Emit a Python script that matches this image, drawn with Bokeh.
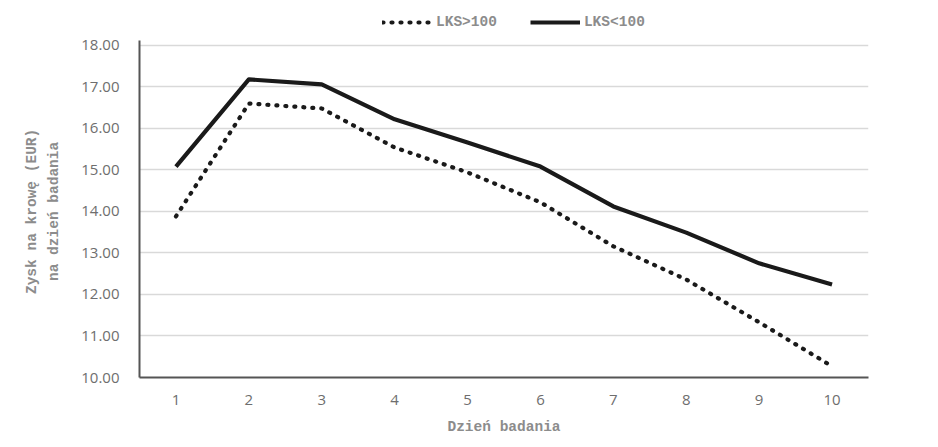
from bokeh.plotting import figure
from bokeh.models import Legend, LegendItem, FixedTicker, Range1d, NumeralTickFormatter
from bokeh.embed import file_html
from bokeh.resources import INLINE

days = [1, 2, 3, 4, 5, 6, 7, 8, 9, 10]
lks_above_100 = [13.88, 16.60, 16.48, 15.54, 14.94, 14.22, 13.16, 12.36, 11.33, 10.27]
lks_below_100 = [15.08, 17.18, 17.06, 16.22, 15.66, 15.08, 14.12, 13.49, 12.75, 12.24]
y_ticks = [10, 11, 12, 13, 14, 15, 16, 17, 18]

MONO = "Liberation Mono"
NB = "\u00a0" * 4

p = figure(width=922, height=437, output_backend="svg", toolbar_location=None,
           x_range=Range1d(0.5, 10.5), y_range=Range1d(10, 18.84),
           min_border_left=139, min_border_right=54, min_border_top=10, min_border_bottom=54)
p.outline_line_color = None
p.background_fill_color = "white"

r1 = p.line(days, lks_above_100, line_color="#1a1a1a", line_width=4.2,
            line_dash="1 8", line_cap="round")
r2 = p.line(days, lks_below_100, line_color="#1a1a1a", line_width=4.2, line_join="round")

p.xaxis.ticker = FixedTicker(ticks=days)
p.yaxis.ticker = FixedTicker(ticks=y_ticks)
p.yaxis.formatter = NumeralTickFormatter(format="0.00")
p.yaxis.bounds = (10, 18.12)

for ax in (p.xaxis[0], p.yaxis[0]):
    ax.major_tick_line_color = None
    ax.minor_tick_line_color = None
    ax.axis_line_color = "#555555"
    ax.axis_line_width = 2
    ax.major_label_text_color = "#6e6e6e"
    ax.axis_label_text_color = "#8c8c8c"
    ax.axis_label_text_font = MONO
    ax.axis_label_text_font_style = "bold"
    ax.axis_label_text_font_size = "14.5px"

p.yaxis.major_label_text_font = "Open Sans"
p.yaxis.major_label_text_font_size = "15px"
p.yaxis.major_label_standoff = 14
p.xaxis.major_label_text_font = "Open Sans"
p.xaxis.major_label_text_font_size = "15px"
p.xaxis.major_label_standoff = 11

p.xaxis.axis_label = "Dzień badania"
p.xaxis.axis_label_standoff = 11
p.yaxis.axis_label = "Zysk na krowę (EUR)" + NB + "\nna dzień badania" + NB
p.yaxis.axis_label_standoff = 16
p.yaxis.axis_label_text_line_height = 1.4

p.xgrid.grid_line_color = None
p.ygrid.grid_line_color = "#d9d9d9"
p.ygrid.grid_line_width = 1.5

legend = Legend(items=[LegendItem(label="LKS>100", renderers=[r1]),
                       LegendItem(label="LKS<100", renderers=[r2])],
                orientation="horizontal", location=(243, 345),
                label_text_font=MONO, label_text_font_style="bold",
                label_text_font_size="14.5px", label_text_color="#8c8c8c",
                glyph_width=50, spacing=33, label_standoff=4,
                border_line_color=None, background_fill_alpha=0,
                margin=0, padding=4)
p.add_layout(legend)

open("out.html", "w").write(file_html(p, INLINE))
